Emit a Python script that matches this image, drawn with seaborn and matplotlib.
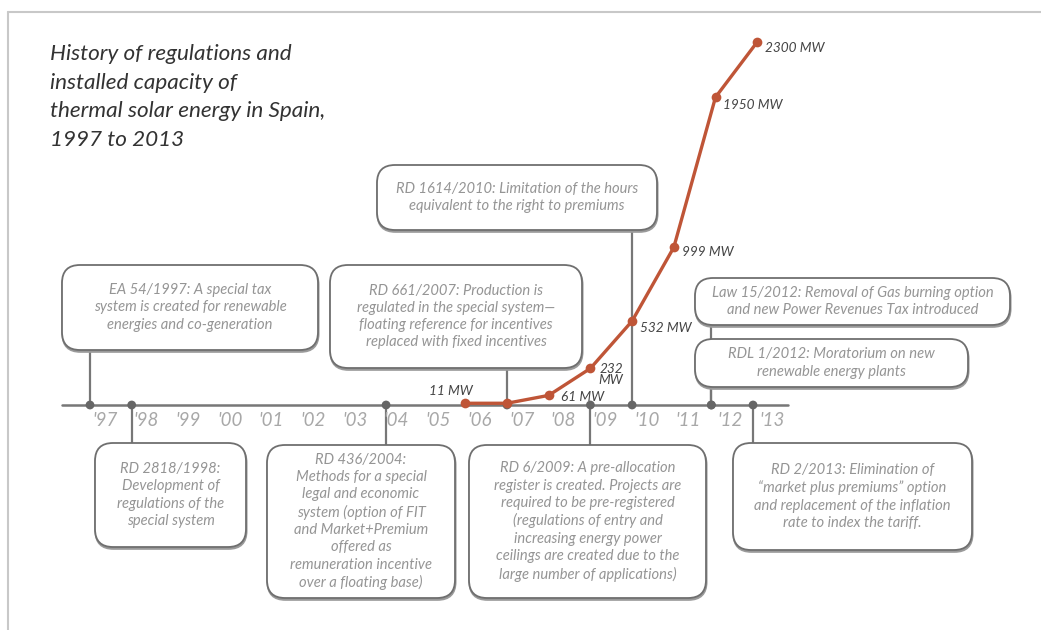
import matplotlib
matplotlib.use("Agg")
import matplotlib.pyplot as plt
import matplotlib.transforms as mtrans
from matplotlib.patches import FancyBboxPatch
import pandas as pd
import seaborn as sns

# ---- datos ----
cap_years = [2006, 2007, 2008, 2009, 2010, 2011, 2012, 2013]
cap_mw = [11, 11, 61, 232, 532, 999, 1950, 2300]
cap_labels = ["11 MW", "", "61 MW", "232\nMW", "532 MW", "999 MW", "1950 MW", "2300 MW"]

year_ticks = list(range(1997, 2014))
year_labels = ["'97", "'98", "'99", "'00", "'01", "'02", "'03", "'04", "'05",
               "'06", "'07", "'08", "'09", "'10", "'11", "'12", "'13"]

event_dates = [1997.0, 1998.0, 2004.1, 2007.0, 2009.0, 2010.0, 2011.9, 2011.9, 2012.9]
event_texts = [
    "EA 54/1997: A special tax\nsystem is created for renewable\nenergies and co-generation",
    "RD 2818/1998:\nDevelopment of\nregulations of the\nspecial system",
    "RD 436/2004:\nMethods for a special\nlegal and economic\nsystem (option of FIT\nand Market+Premium\noffered as\nremuneration incentive\nover a floating base)",
    "RD 661/2007: Production is\nregulated in the special system\u2014\nfloating reference for incentives\nreplaced with fixed incentives",
    "RD 6/2009: A pre-allocation\nregister is created. Projects are\nrequired to be pre-registered\n(regulations of entry and\nincreasing energy power\nceilings are created due to the\nlarge number of applications)",
    "RD 1614/2010: Limitation of the hours\nequivalent to the right to premiums",
    "Law 15/2012: Removal of Gas burning option\nand new Power Revenues Tax introduced",
    "RDL 1/2012: Moratorium on new\nrenewable energy plants",
    "RD 2/2013: Elimination of\n\u201cmarket plus premiums\u201d option\nand replacement of the inflation\nrate to index the tariff.",
]

title = "History of regulations and\ninstalled capacity of\nthermal solar energy in Spain,\n1997 to 2013"

# ---- layout (pixeles) ----
boxes = [(62, 265, 318, 350), (95, 443, 246, 547), (267, 445, 455, 598),
         (330, 265, 582, 368), (469, 445, 706, 598), (377, 165, 657, 230),
         (695, 278, 1010, 325), (695, 339, 968, 387), (733, 443, 972, 550)]
label_offsets = [(-36, 12, "left"), (0, 0, "left"), (12, -2, "left"), (33, -6, "right"),
                 (8, -7, "left"), (8, -5, "left"), (8, -8, "left"), (8, -6, "left")]
line_y = 405

sns.set_theme(style="white")
plt.rcParams["font.family"] = ["Lato", "DejaVu Sans"]

fig = plt.figure(figsize=(10.41, 6.30), dpi=100)
ov = fig.add_axes([0, 0, 1, 1])
ov.set_xlim(0, 1041)
ov.set_ylim(630, 0)
ov.axis("off")

ax = fig.add_axes([0, 0, 1, 1], zorder=2)
ax.set_facecolor("none")
px_per_year = 41.7
x0 = 1997 - 90 / px_per_year
ax.set_xlim(x0, x0 + 1041 / px_per_year)
mw_per_px = 2300 / (line_y - 42)
ax.set_ylim(-(630 - line_y) * mw_per_px, line_y * mw_per_px)
ax.axis("off")

# marco
ov.plot([8, 8], [12, 630], color="#c8c8c8", lw=1.5)
ov.plot([8, 1041], [12, 12], color="#c8c8c8", lw=1.5)

# titulo
ov.text(50, 97, title, fontsize=16.2, style="italic", color="#333333",
        va="center", ha="left", linespacing=1.56)

# conectores y cajas
blend = mtrans.blended_transform_factory(ax.transData, ov.transData)
for date, text, (bx0, by0, bx1, by1) in zip(event_dates, event_texts, boxes):
    end = by1 if by1 < line_y else by0
    ov.plot([date, date], [line_y, end], color="#777777", lw=1.6,
            transform=blend, zorder=1)
    w, h = bx1 - bx0, by1 - by0
    r = min(18, h / 2.3)
    shadow = FancyBboxPatch((bx0 + 0.5, by0 + 1.8), w, h,
                            boxstyle=f"round,pad=0,rounding_size={r}",
                            fc="#9a9a9a", ec="#9a9a9a", lw=1.5, zorder=2)
    box = FancyBboxPatch((bx0, by0), w, h,
                         boxstyle=f"round,pad=0,rounding_size={r}",
                         fc="white", ec="#6f6f6f", lw=1.3, zorder=3)
    ov.add_patch(shadow)
    ov.add_patch(box)
    ov.text((bx0 + bx1) / 2, (by0 + by1) / 2, text, ha="center", va="center",
            fontsize=10.6, style="italic", color="#959595",
            linespacing=1.3, zorder=4)

# linea de tiempo
ax.plot([1996.33, 2013.75], [0, 0], color="#777777", lw=1.8, zorder=1)
ev = pd.DataFrame({"year": event_dates, "y": 0})
sns.scatterplot(data=ev, x="year", y="y", ax=ax, color="#666666", s=40,
                edgecolor="none", zorder=3)
for yr, lab in zip(year_ticks, year_labels):
    ax.text(yr + 0.35, 420, lab, transform=blend, ha="center", va="center",
            fontsize=13.5, style="italic", color="#a8a8a8")

# capacidad instalada
cap = pd.DataFrame({"year": cap_years, "mw": cap_mw})
sns.lineplot(data=cap, x="year", y="mw", ax=ax, color="#bf5537", lw=2.4,
             marker="o", markersize=7, markeredgewidth=0, zorder=4)
for yr, mw, lab, (dx, dy, ha) in zip(cap_years, cap_mw, cap_labels, label_offsets):
    if not lab:
        continue
    ax.annotate(lab, (yr, mw), xytext=(dx / 1.389, dy / 1.389),
                textcoords="offset points", ha=ha, va="center",
                fontsize=9.8, style="italic", color="#444444",
                linespacing=0.95, multialignment=ha)

fig.savefig("out.png", dpi=100)
